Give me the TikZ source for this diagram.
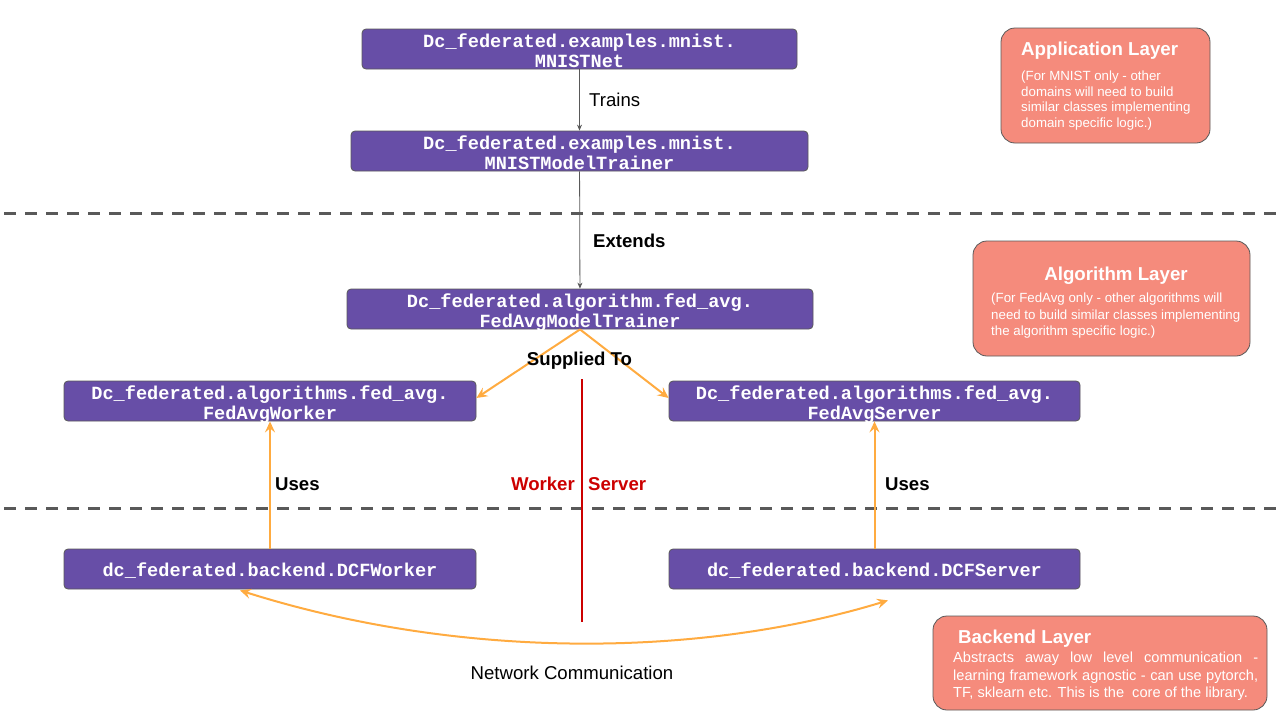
\documentclass[tikz,border=0pt]{standalone}
\usepackage{fontspec}
\setmainfont{Liberation Sans}
\setmonofont{Liberation Mono}
\usetikzlibrary{arrows.meta}
\definecolor{clspurple}{HTML}{674EA7}
\definecolor{bordergrey}{HTML}{595959}
\definecolor{layersalmon}{HTML}{F58B7C}
\definecolor{arrorange}{HTML}{FFAB40}
\definecolor{divred}{HTML}{CC0000}
\newcommand{\toppad}{\rule{0pt}{21.5pt}}
\newcommand{\botpad}{\rule[-4pt]{0pt}{4pt}}
\newcommand{\onepad}{\rule[-5pt]{0pt}{24.5pt}}
\begin{document}
\begin{tikzpicture}[x=1pt,y=-1pt,
  cls/.style={draw=bordergrey, line width=0.8pt, fill=clspurple, rounded corners=4pt,
    text=white, font=\ttfamily\bfseries\fontsize{18.6}{20}\selectfont, align=center,
    minimum height=40pt, inner xsep=0pt, inner ysep=-3pt},
  layer/.style={draw=bordergrey, line width=0.8pt, fill=layersalmon, rounded corners=14pt, inner sep=0pt},
  ltitle/.style={text=white, font=\bfseries\fontsize{18.7}{22}\selectfont, inner sep=0pt},
  lbody/.style={text=white, font=\fontsize{13.3}{15.8}\selectfont, inner sep=0pt, align=left},
  lbl/.style={font=\fontsize{18.6}{22}\selectfont, inner sep=0pt},
  blbl/.style={font=\bfseries\fontsize{18.6}{22}\selectfont, inner sep=0pt},
  greyarrow/.style={draw=bordergrey, line width=0.8pt, -{Stealth[length=6pt,width=5pt]}},
  orgarrow/.style={draw=arrorange, line width=2pt, -{Stealth[length=11pt,width=10pt,inset=4pt]}},
  divider/.style={draw=bordergrey, line width=3pt, dash pattern=on 12pt off 9pt}
]
\useasboundingbox (0,0) rectangle (1280,720);

% dividers
\coordinate (d1a) at (4,213); \coordinate (d1b) at (1280,213);
\coordinate (d2a) at (4,508); \coordinate (d2b) at (1280,508);
\draw[divider] (d1a) -- (d1b);
\draw[divider] (d2a) -- (d2b);

% class boxes
\node[cls, minimum width=435pt] (net) at (579.5,49) {\toppad Dc\_federated.examples.mnist.\\MNISTNet\botpad};
\node[cls, minimum width=457pt] (mtr) at (579.5,151) {\toppad Dc\_federated.examples.mnist.\\MNISTModelTrainer\botpad};
\node[cls, minimum width=466pt] (fmt) at (580,309) {\toppad Dc\_federated.algorithm.fed\_avg.\\FedAvgModelTrainer\botpad};
\node[cls, minimum width=412pt] (fw) at (270,401) {\toppad Dc\_federated.algorithms.fed\_avg.\\FedAvgWorker\botpad};
\node[cls, minimum width=411pt] (fs) at (874.5,401) {\toppad Dc\_federated.algorithms.fed\_avg.\\FedAvgServer\botpad};
\node[cls, minimum width=412pt] (dw) at (270,569) {\onepad dc\_federated.backend.DCFWorker};
\node[cls, minimum width=411pt] (ds) at (874.5,569) {\onepad dc\_federated.backend.DCFServer};

% connectors
\draw[greyarrow] (net) -- (mtr);
\draw[greyarrow] (mtr) -- (fmt);
\draw[orgarrow] (fmt.south) -- ([yshift=3pt]fw.east);
\draw[orgarrow] (fmt.south) -- ([yshift=3pt]fs.west);
\draw[orgarrow] (dw) -- (fw);
\draw[orgarrow] (ds) -- (fs);

% red divider
\coordinate (rt) at (582,379); \coordinate (rb) at (582,622);
\draw[divred, line width=2pt] (rt) -- (rb);

% network communication
\coordinate (nw) at ([xshift=-30pt,yshift=-1pt]dw.south);
\coordinate (ns) at ([xshift=13.5pt,yshift=-11pt]ds.south);
\draw[draw=arrorange, line width=2pt, {Stealth[length=11pt,width=10pt,inset=4pt]}-{Stealth[length=11pt,width=10pt,inset=4pt]}]
  (nw) .. controls (460,660) and (700,658) .. (ns);

% labels
\node[lbl, anchor=west] (ltrains) at (589,100) {Trains};
\node[blbl, anchor=west] (lext) at (593,241) {Extends};
\node[blbl] (lsup) at (579.5,361) {Supplied To};
\node[blbl, anchor=west] (luw) at (275,484) {Uses};
\node[blbl, anchor=west] (lus) at (885,484) {Uses};
\node[blbl, text=divred, anchor=east] (lwork) at (575,484) {Worker};
\node[blbl, text=divred, anchor=west] (lserv) at (588,484) {Server};
\node[lbl] (lnet) at (572,673) {Network Communication};

% layer boxes
\node[layer, minimum width=209pt, minimum height=115pt] (app) at (1105.5,85.5) {};
\node[ltitle, anchor=base west] (appt) at (1021,55.5) {Application Layer};
\node[lbody, anchor=north west] (appb) at (1021,70.5) {(For MNIST only - other\\domains will need to build\\similar classes implementing\\domain specific logic.)};

\node[layer, minimum width=277pt, minimum height=115pt] (alg) at (1111.5,298.5) {};
\node[ltitle, anchor=base] (algt) at (1116,280.5) {Algorithm Layer};
\node[lbody, anchor=north west, font=\fontsize{13.3}{16.5}\selectfont] (algb) at (991,293) {(For FedAvg only - other algorithms will\\need to build similar classes implementing\\the algorithm specific logic.)};

\node[layer, minimum width=334pt, minimum height=94pt] (bck) at (1100,663) {};
\node[ltitle, anchor=base west] (bckt) at (958,643) {Backend Layer};
\node[lbody, anchor=north west, text width=305pt, align=justify, font=\fontsize{14.6}{17.5}\selectfont] (bckb) at (953,652) {Abstracts away low level communication -\linebreak learning framework agnostic - can use pytorch,\linebreak TF, sklearn etc. This is the\ \ core of the library.};
\end{tikzpicture}
\end{document}
